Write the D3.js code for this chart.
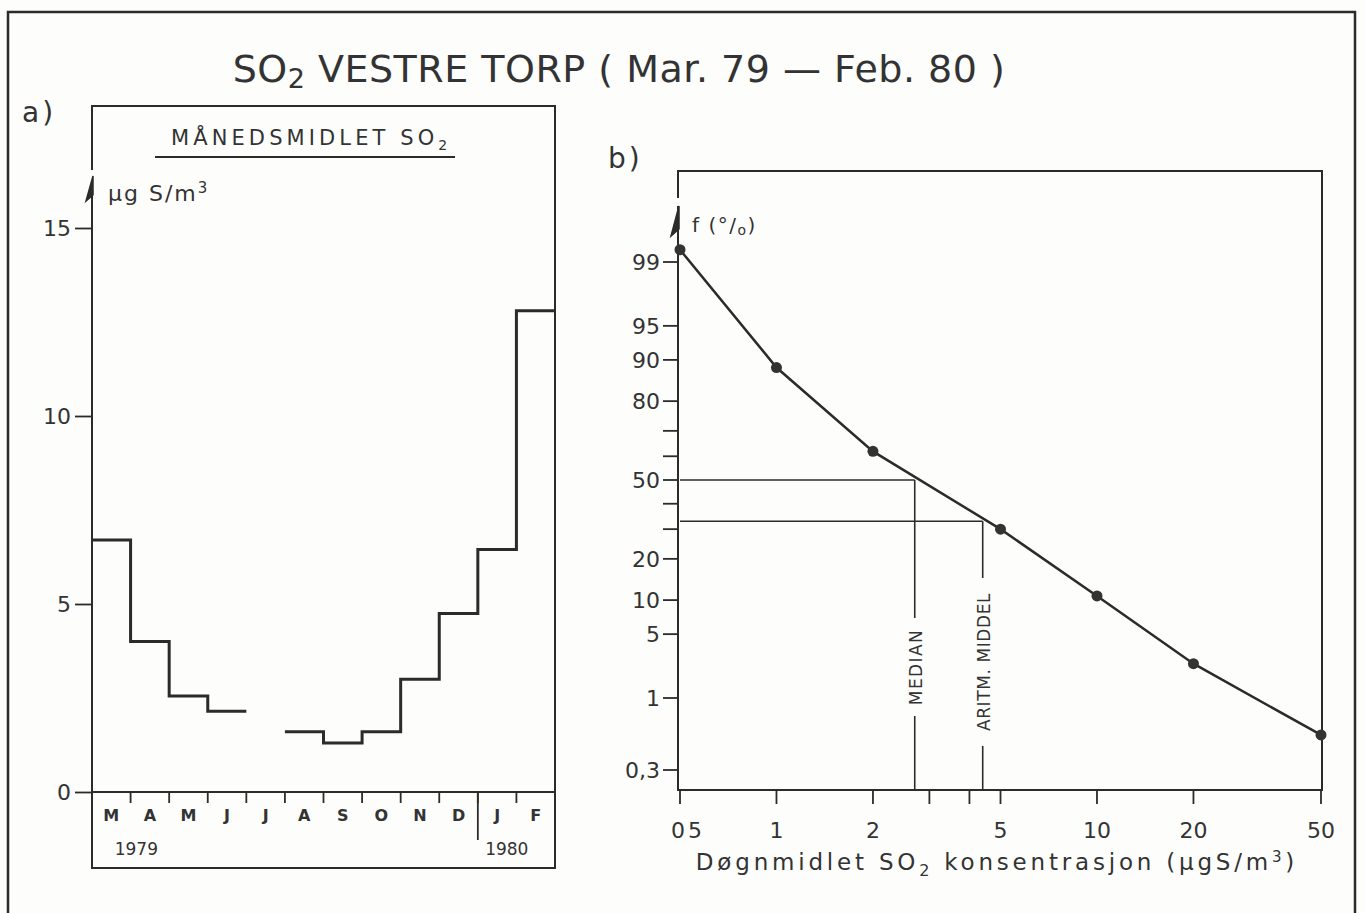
<!DOCTYPE html>
<html><head><meta charset="utf-8">
<script src="https://cdn.jsdelivr.net/npm/d3@7"></script>
<style>
html,body{margin:0;padding:0;background:#fdfdfc;}
svg{display:block;}
text{font-family:"DejaVu Sans",sans-serif;fill:#333;}
</style></head>
<body>
<svg id="c" width="1365" height="913"></svg>
<script>
// ---------- data ----------
const months = ["M","A","M","J","J","A","S","O","N","D","J","F"];
const monthlySO2 = [6.7, 4.0, 2.55, 2.15, null, 1.6, 1.3, 1.6, 3.0, 4.75, 6.45, 12.8];
const yTicksA = [0, 5, 10, 15];
const years = [{label:"1979", month:0.0}, {label:"1980", month:10.0}];

const concentration = [0.5, 1, 2, 5, 10, 20, 50];
const freqPct = [99.3, 88.5, 62, 30, 10.8, 2.5, 0.55];
const pTicks = [99, 95, 90, 80, 70, 60, 50, 40, 30, 20, 10, 5, 1, 0.3];
const pTickLabels = ["99","95","90","80","","","50","","","20","10","5","1","0,3"];
const xTicksB = [0.5, 1, 2, 3, 4, 5, 10, 20, 50];
const xTickLabelsB = ["05","1","2","","","5","10","20","50"];
const medianConc = 2.7, medianP = 50;
const meanConc = 4.4, meanP = 33;

// ---------- helpers ----------
function probit(p){ // inverse normal CDF (Acklam)
  const a=[-39.69683028665376,220.9460984245205,-275.9285104469687,138.3577518672690,-30.66479806614716,2.506628277459239];
  const b=[-54.47609879822406,161.5858368580409,-155.6989798598866,66.80131188771972,-13.28068155288572];
  const c=[-0.007784894002430293,-0.3223964580411365,-2.400758277161838,-2.549732539343734,4.374664141464968,2.938163982698783];
  const d=[0.007784695709041462,0.3224671290700398,2.445134137142996,3.754408661907416];
  const pl=0.02425;
  let q,r;
  if(p<pl){q=Math.sqrt(-2*Math.log(p));return (((((c[0]*q+c[1])*q+c[2])*q+c[3])*q+c[4])*q+c[5])/((((d[0]*q+d[1])*q+d[2])*q+d[3])*q+1);}
  if(p<=1-pl){q=p-0.5;r=q*q;return (((((a[0]*r+a[1])*r+a[2])*r+a[3])*r+a[4])*r+a[5])*q/(((((b[0]*r+b[1])*r+b[2])*r+b[3])*r+b[4])*r+1);}
  q=Math.sqrt(-2*Math.log(1-p));return -(((((c[0]*q+c[1])*q+c[2])*q+c[3])*q+c[4])*q+c[5])/((((d[0]*q+d[1])*q+d[2])*q+d[3])*q+1);
}

const svg = d3.select("#c");
const INK = "#2b2b2b";

// outer frame
svg.append("rect").attr("x",8).attr("y",12).attr("width",1347).attr("height",920)
  .attr("fill","none").attr("stroke",INK).attr("stroke-width",2.5);

// title
const title = svg.append("text").attr("x",619).attr("y",82).attr("text-anchor","middle")
  .attr("font-size",38).attr("letter-spacing",0.5);
title.append("tspan").text("SO");
title.append("tspan").attr("font-size",27).attr("dy",6).text("2");
title.append("tspan").attr("dy",-6).text(" VESTRE  TORP ( Mar. 79 \u2014 Feb. 80 )");

// ================= PANEL A =================
const aL=92, aR=555, aT=106, aB=868, a0=792;
const xA = d3.scaleBand().domain(d3.range(12)).range([aL,aR]).paddingInner(0).paddingOuter(0);
const yA = d3.scaleLinear().domain([0,15]).range([a0, 228]);

const gA = svg.append("g");
gA.append("path").attr("d",`M${aL},170 L${aL},${aT} L${aR},${aT} L${aR},${aB} L${aL},${aB} L${aL},195`)
  .attr("fill","none").attr("stroke",INK).attr("stroke-width",2);
gA.append("path").attr("d",`M${aL+1},176 L${aL-6},201 L${aL+1},195 Z`).attr("fill",INK).attr("stroke",INK).attr("stroke-width",1.5);

const axA = d3.axisLeft(yA).tickValues(yTicksA).tickSize(17).tickPadding(4).tickFormat(d3.format("d"));
const gAx = gA.append("g").attr("transform",`translate(${aL},0)`).call(axA);
gAx.select(".domain").remove();
gAx.selectAll(".tick line").attr("stroke",INK).attr("stroke-width",1.8);
gAx.selectAll(".tick text").attr("font-size",22).attr("fill","#333")
  .attr("font-family","'DejaVu Sans',sans-serif").attr("dy","0.35em");

gA.append("line").attr("x1",aL).attr("x2",aR).attr("y1",a0).attr("y2",a0).attr("stroke",INK).attr("stroke-width",2);
gA.selectAll("line.mt").data(d3.range(1,12)).join("line").attr("class","mt")
  .attr("x1",d=>xA(d)).attr("x2",d=>xA(d)).attr("y1",a0).attr("y2",a0+11)
  .attr("stroke",INK).attr("stroke-width",1.8);
gA.append("line").attr("x1",xA(10)).attr("x2",xA(10)).attr("y1",a0).attr("y2",840)
  .attr("stroke",INK).attr("stroke-width",1.8);
gA.selectAll("text.ml").data(months).join("text").attr("class","ml")
  .attr("x",(d,i)=>xA(i)+xA.bandwidth()/2).attr("y",821).attr("text-anchor","middle")
  .attr("font-size",16).attr("font-weight","bold").text(d=>d);
gA.selectAll("text.yr").data(years).join("text").attr("class","yr")
  .attr("x",d=>xA(d.month)+xA.bandwidth()*(d.label==="1979"?1.15:0.75)).attr("y",855).attr("text-anchor","middle")
  .attr("font-size",17).text(d=>d.label);

// step line, split into runs at missing months
const runs=[]; let cur=null;
monthlySO2.forEach((v,i)=>{
  if(v==null){cur=null;return;}
  if(!cur){cur=[];runs.push(cur);}
  cur.push([i,v]);
});
const stepLine = d3.line().x(d=>d[0]).y(d=>d[1]).curve(d3.curveStepAfter);
runs.forEach(run=>{
  const pts = run.map(([i,v])=>[xA(i), yA(v)]);
  const last = run[run.length-1];
  pts.push([xA(last[0])+xA.bandwidth(), yA(last[1])]);
  gA.append("path").attr("d",stepLine(pts)).attr("fill","none").attr("stroke",INK)
    .attr("stroke-width",3).attr("stroke-linejoin","miter");
});

svg.append("text").attr("x",22).attr("y",122).attr("font-size",28).attr("letter-spacing",3).text("a)");
const ht = gA.append("text").attr("x",171).attr("y",145).attr("font-size",21).attr("letter-spacing",4.1);
ht.append("tspan").text("MÅNEDSMIDLET  SO");
ht.append("tspan").attr("font-size",14).attr("dy",5).text("2");
gA.append("line").attr("x1",155).attr("x2",455).attr("y1",157).attr("y2",157).attr("stroke",INK).attr("stroke-width",2);
const ua = gA.append("text").attr("x",108).attr("y",201).attr("font-size",22).attr("letter-spacing",2);
ua.append("tspan").text("µg S/m");
ua.append("tspan").attr("font-size",15).attr("dy",-8).text("3");

// ================= PANEL B =================
const bL=680, bR=1322, bT=171, bB=790;
const xB = d3.scaleLog().domain([0.5,50]).range([bL, 1321]);
const yB = d3.scaleLinear().domain([probit(0.003), probit(0.01), probit(0.99)]).range([770, 698, 262]);
const yP = p => yB(probit(p/100));

const gB = svg.append("g");
gB.append("path").attr("d",`M${bL-2},198 L${bL-2},${bT} L${bR},${bT} L${bR},${bB} L${bL-2},${bB} L${bL-2},206`)
  .attr("fill","none").attr("stroke",INK).attr("stroke-width",2);
gB.append("path").attr("d",`M${bL-1},206 L${bL-9},236 L${bL-1},229 Z`).attr("fill",INK).attr("stroke",INK).attr("stroke-width",1.5);

gB.selectAll("line.pt").data(pTicks).join("line").attr("class","pt")
  .attr("x1",bL-17).attr("x2",bL-2).attr("y1",d=>yP(d)).attr("y2",d=>yP(d))
  .attr("stroke",INK).attr("stroke-width",1.8);
gB.selectAll("text.pl").data(pTicks).join("text").attr("class","pl")
  .attr("x",bL-20).attr("y",d=>yP(d)).attr("dy","0.36em").attr("text-anchor","end")
  .attr("font-size",22).text((d,i)=>pTickLabels[i]);

gB.selectAll("line.xt").data(xTicksB).join("line").attr("class","xt")
  .attr("x1",d=>xB(d)).attr("x2",d=>xB(d)).attr("y1",bB).attr("y2",bB+14)
  .attr("stroke",INK).attr("stroke-width",1.8);
gB.selectAll("text.xl").data(xTicksB).join("text").attr("class","xl")
  .attr("x",d=>xB(d)+(d===0.5?8:0)).attr("y",838).attr("text-anchor","middle")
  .attr("font-size",22).attr("letter-spacing",d=>d===0.5?3:0).text((d,i)=>xTickLabelsB[i]);

const xt = gB.append("text").attr("x",997).attr("y",870).attr("text-anchor","middle").attr("font-size",23).attr("letter-spacing",3.8);
xt.append("tspan").text("Døgnmidlet  SO");
xt.append("tspan").attr("font-size",16).attr("dy",6).text("2");
xt.append("tspan").attr("dy",-6).text("  konsentrasjon  (µgS/m");
xt.append("tspan").attr("font-size",15).attr("dy",-8).text("3");
xt.append("tspan").attr("dy",8).text(")");

const fl = gB.append("text").attr("x",692).attr("y",232).attr("font-size",20).attr("letter-spacing",1.5);
fl.append("tspan").text("f (°/");
fl.append("tspan").attr("font-size",14).attr("dy",3).text("o");
fl.append("tspan").attr("dy",-3).text(")");
svg.append("text").attr("x",608).attr("y",168).attr("font-size",28).attr("letter-spacing",3).text("b)");

// median / mean guide lines
const refs = [
  {c:medianConc, p:medianP, label:"MEDIAN", gap:[618,716], ls:1.4},
  {c:meanConc, p:meanP, label:"ARITM. MIDDEL", gap:[578,746], ls:0.6}
];
refs.forEach(r=>{
  const x=xB(r.c), y=yP(r.p);
  gB.append("line").attr("x1",bL).attr("x2",x).attr("y1",y).attr("y2",y).attr("stroke",INK).attr("stroke-width",1.6);
  gB.append("line").attr("x1",x).attr("x2",x).attr("y1",y).attr("y2",r.gap[0]).attr("stroke",INK).attr("stroke-width",1.6);
  gB.append("line").attr("x1",x).attr("x2",x).attr("y1",r.gap[1]).attr("y2",bB).attr("stroke",INK).attr("stroke-width",1.6);
  gB.append("text").attr("transform",`translate(${x+7},${(r.gap[0]+r.gap[1])/2}) rotate(-90)`)
    .attr("text-anchor","middle").attr("font-size",17).attr("letter-spacing",r.ls).text(r.label);
});

// cumulative frequency curve
const pts = concentration.map((c,i)=>[xB(c), yP(freqPct[i])]);
gB.append("path").attr("d",d3.line().curve(d3.curveLinear)(pts)).attr("fill","none")
  .attr("stroke",INK).attr("stroke-width",2.5);
gB.selectAll("circle").data(pts).join("circle").attr("cx",d=>d[0]).attr("cy",d=>d[1]).attr("r",5.5).attr("fill","#333");
</script>
</body></html>
